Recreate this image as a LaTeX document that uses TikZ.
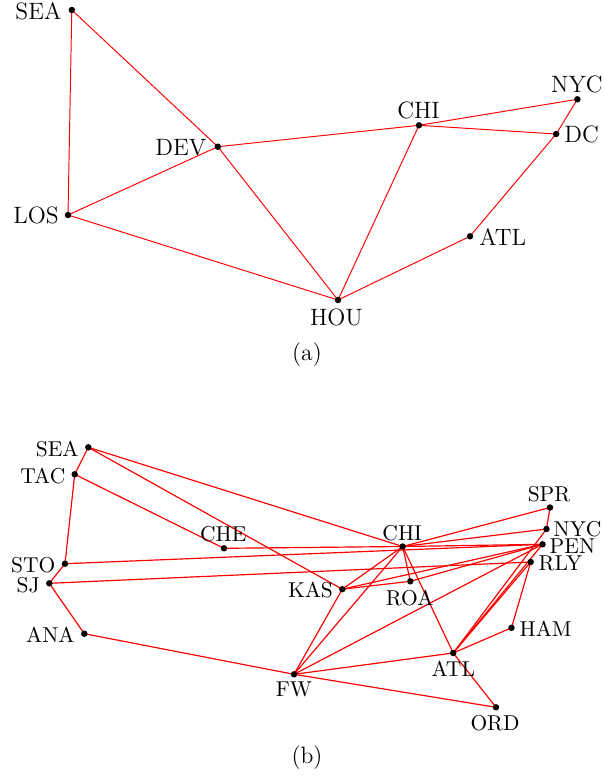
\documentclass[tikz,border=0pt]{standalone}
\pgfdeclarelayer{bg}
\pgfsetlayers{bg,main}
\begin{document}
\begin{tikzpicture}[x=0.465pt,y=-0.465pt,
  dot/.style={circle,fill=black,inner sep=0pt,minimum size=3pt},
  edgeA/.style={red,line width=0.45pt},
  edgeB/.style={red,line width=0.55pt},
  lblA/.style={inner sep=0pt,font=\fontsize{11}{13}\selectfont},
  lblB/.style={inner sep=0pt,font=\fontsize{10}{12}\selectfont}]
\useasboundingbox (0,0) rectangle (604,778);
% ---------- (a) ----------
\node[dot] (aSEA) at (71.8,10) {};
\node[dot] (aLOS) at (68,215) {};
\node[dot] (aDEV) at (217.8,146.7) {};
\node[dot] (aCHI) at (419,125.3) {};
\node[dot] (aNYC) at (577.4,99.3) {};
\node[dot] (aDC)  at (556.2,134) {};
\node[dot] (aATL) at (470,236.3) {};
\node[dot] (aHOU) at (338,300) {};
\begin{pgfonlayer}{bg}
\foreach \u/\v in {SEA/LOS,SEA/DEV,LOS/DEV,LOS/HOU,DEV/HOU,DEV/CHI,CHI/NYC,CHI/DC,CHI/HOU,HOU/ATL,ATL/DC,DC/NYC}
  \draw[edgeA] (a\u.center) -- (a\v.center);
\end{pgfonlayer}
\node[lblA,anchor=base east] (aSEAl) at (61.8,19) {SEA};
\node[lblA,anchor=base east] (aLOSl) at (59.1,223.3) {LOS};
\node[lblA,anchor=base east] (aDEVl) at (206.6,155) {DEV};
\node[lblA,anchor=base] (aCHIl) at (418.5,118.3) {CHI};
\node[lblA,anchor=base] (aNYCl) at (576.9,92.3) {NYC};
\node[lblA,anchor=base west] (aDCl) at (564,142.7) {DC};
\node[lblA,anchor=base west] (aATLl) at (479,245) {ATL};
\node[lblA,anchor=base] (aHOUl) at (336.4,325) {HOU};
\node[lblA,anchor=base] (capA) at (307,360) {(a)};
% ---------- (b) ----------
\node[dot] (bSEA) at (88.3,447.3) {};
\node[dot] (bTAC) at (74.7,474.3) {};
\node[dot] (bSTO) at (65,563.7) {};
\node[dot] (bSJ)  at (49.3,583.3) {};
\node[dot] (bANA) at (84.3,633.7) {};
\node[dot] (bCHE) at (224,548.3) {};
\node[dot] (bCHI) at (402.7,546.5) {};
\node[dot] (bKAS) at (342.3,589.2) {};
\node[dot] (bROA) at (410.3,581.3) {};
\node[dot] (bSPR) at (550,507.5) {};
\node[dot] (bNYC) at (546.5,529) {};
\node[dot] (bPEN) at (542.5,544.3) {};
\node[dot] (bRLY) at (530.7,562) {};
\node[dot] (bHAM) at (511.5,627.8) {};
\node[dot] (bATL) at (453.2,653) {};
\node[dot] (bFW)  at (294,674.3) {};
\node[dot] (bORD) at (496,707.3) {};
\begin{pgfonlayer}{bg}
\foreach \u/\v in {SEA/TAC,SEA/CHI,SEA/KAS,TAC/STO,TAC/CHE,STO/SJ,SJ/ANA,ANA/FW,
  CHE/CHI,CHI/PEN,STO/PEN,SJ/RLY,CHI/SPR,CHI/NYC,CHI/KAS,CHI/ROA,CHI/ATL,CHI/FW,
  KAS/FW,KAS/ROA,KAS/PEN,ROA/PEN,FW/PEN,FW/ATL,FW/ORD,ATL/ORD,ATL/HAM,ATL/NYC,
  ATL/PEN,ATL/RLY,HAM/RLY,SPR/NYC}
  \draw[edgeB] (b\u.center) -- (b\v.center);
\end{pgfonlayer}
\node[lblB,anchor=base east] (bSEAl) at (79,456) {SEA};
\node[lblB,anchor=base east] (bTACl) at (65.7,483.3) {TAC};
\node[lblB,anchor=base east] (bSTOl) at (55.7,572.7) {STO};
\node[lblB,anchor=base east] (bSJl) at (40,592) {SJ};
\node[lblB,anchor=base east] (bANAl) at (75,642.3) {ANA};
\node[lblB,anchor=base east] (bKASl) at (333.3,597.3) {KAS};
\node[lblB,anchor=base] (bCHEl) at (223.3,541.7) {CHE};
\node[lblB,anchor=base] (bCHIl) at (402.2,540) {CHI};
\node[lblB,anchor=base] (bSPRl) at (549,501) {SPR};
\node[lblB,anchor=base] (bROAl) at (409.7,605) {ROA};
\node[lblB,anchor=base] (bATLl) at (453.3,676.7) {ATL};
\node[lblB,anchor=base] (bFWl) at (294,696.7) {FW};
\node[lblB,anchor=base] (bORDl) at (495,730) {ORD};
\node[lblB,anchor=base west] (bNYCl) at (553.3,536.7) {NYC};
\node[lblB,anchor=base west] (bPENl) at (549.3,553.3) {PEN};
\node[lblB,anchor=base west] (bRLYl) at (538.3,570) {RLY};
\node[lblB,anchor=base west] (bHAMl) at (519.3,636) {HAM};
\node[lblA,anchor=base] (capB) at (307,763) {(b)};
\end{tikzpicture}
\end{document}
